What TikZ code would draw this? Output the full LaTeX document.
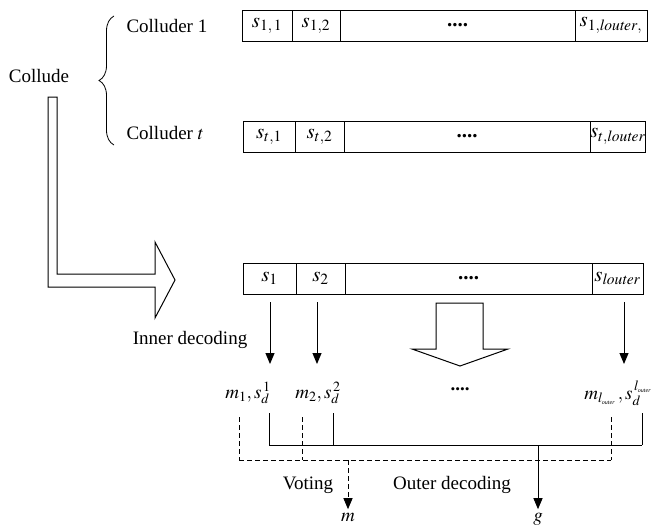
\documentclass[tikz,border=0pt]{standalone}
\usepackage{mathptmx}
\usepackage{fontspec}
\setmainfont{Liberation Serif}
\usepackage{tikz}
\usetikzlibrary{arrows.meta,decorations.pathreplacing,positioning}

\newcommand{\tinysub}[1]{\mbox{\fontsize{6}{6}\selectfont\itshape #1}}

\begin{document}
\begin{tikzpicture}[
  x=1pt, y=-1pt,
  every node/.style={font=\fontsize{19}{22}\selectfont},
  >={Triangle[length=11pt,width=9pt]},
  cell/.style={draw, line width=0.9pt, minimum height=31pt, inner sep=0pt, outer sep=0pt, anchor=west,
    font=\fontsize{21}{24}\selectfont},
  wire/.style={line width=1pt},
  vote/.style={line width=1pt, dashed, dash pattern=on 5pt off 3pt},
  blockarrow/.style={draw, line width=1pt, line join=miter, fill=white},
]
\useasboundingbox (0,0) rectangle (658,525);

% --- Colluders ---
\node (collude) at (39,76) {Collude};
\node[anchor=west] (c1) at (123,26) {Colluder 1};
\node[anchor=west] (ct) at (123,133) {Colluder $t$};
\draw[line width=0.8pt, decorate, decoration={brace, amplitude=15pt}]
  (114,145) -- (114,16);

% --- Code words of colluder 1 ---
\node[cell, minimum width=50] (a1) at (242,25.5) {$s_{1,\,1}$};
\node[cell, minimum width=48, right=0pt of a1] (a2) {$s_{1,2}$};
\node[cell, minimum width=235, right=0pt of a2] (adots) {\bfseries ....};
\node[cell, minimum width=72, right=0pt of adots] (an) {$s_{1,\mathit{louter},}$};

% --- Code words of colluder t ---
\node[cell, minimum width=52] (t1) at (243,136.5) {$s_{t,1}$};
\node[cell, minimum width=49, right=0pt of t1] (t2) {$s_{t,2}$};
\node[cell, minimum width=246, right=0pt of t2] (tdots) {\bfseries ....};
\node[cell, minimum width=55, right=0pt of tdots] (tn) {$s_{t,\mathit{louter}}$};

% --- Big L-shaped arrow ---
\draw[blockarrow]
  (48,97) -- (57,97) -- (57,274) -- (155,274) -- (155,242) -- (175,280)
  -- (155,318) -- (155,287) -- (48,287) -- cycle;

% --- Forged code word ---
\node[cell, minimum width=53] (b1) at (243,278.5) {$s_1$};
\node[cell, minimum width=49, right=0pt of b1] (b2) {$s_2$};
\node[cell, minimum width=247, right=0pt of b2] (bdots) {\bfseries ....};
\node[cell, minimum width=51, right=0pt of bdots] (bn) {$s_{\mathit{louter}}$};

% --- Inner decoding ---
\node (inner) at (190,340) {Inner decoding};
\coordinate (i1) at (270,364);
\coordinate (i2) at (317,364);
\coordinate (i3) at (624,364);
\foreach \i/\b in {i1/b1, i2/b2, i3/bn} {
  \draw[wire,->] (\b.south -| \i) ++(0,8) -- (\i);
}
\draw[blockarrow]
  (436,303) -- (483,303) -- (483,349) -- (508,349) -- (460,366)
  -- (412,349) -- (436,349) -- cycle;

% --- Decoded symbols ---
\node (m1) at (248,393) {$m_1,s_d^{\,1}$};
\node (m2) at (318,393) {$m_2,s_d^{\,2}$};
\node (mdots) at (460,389) {\bfseries ....};
\node (mn) at (618,393) {$m_{l_{\tinysub{outer}}}\,,s_d^{\,l_{\tinysub{outer}}}$};

% --- Outer decoding (solid) ---
\foreach \x in {269,333,642} {
  \draw[wire] (\x,413) -- (\x,445);
}
\draw[wire] (269,445) -- (642,445);
\coordinate (gj) at (538,445);
\node[anchor=base] (g) at (538,521) {$g$};
\draw[wire,->] (gj) -- (g.north);

% --- Voting (dashed) ---
\foreach \x in {239,302,611} {
  \draw[vote] (\x,417) -- (\x,460);
}
\draw[vote] (239,460) -- (611,460);
\coordinate (mj) at (348,460);
\node[anchor=base] (m) at (348,521) {$m$};
\draw[vote,->] (mj) -- (m.north);

\node (voting) at (308,485) {Voting};
\node (outer) at (452,485) {Outer decoding};

\end{tikzpicture}
\end{document}
